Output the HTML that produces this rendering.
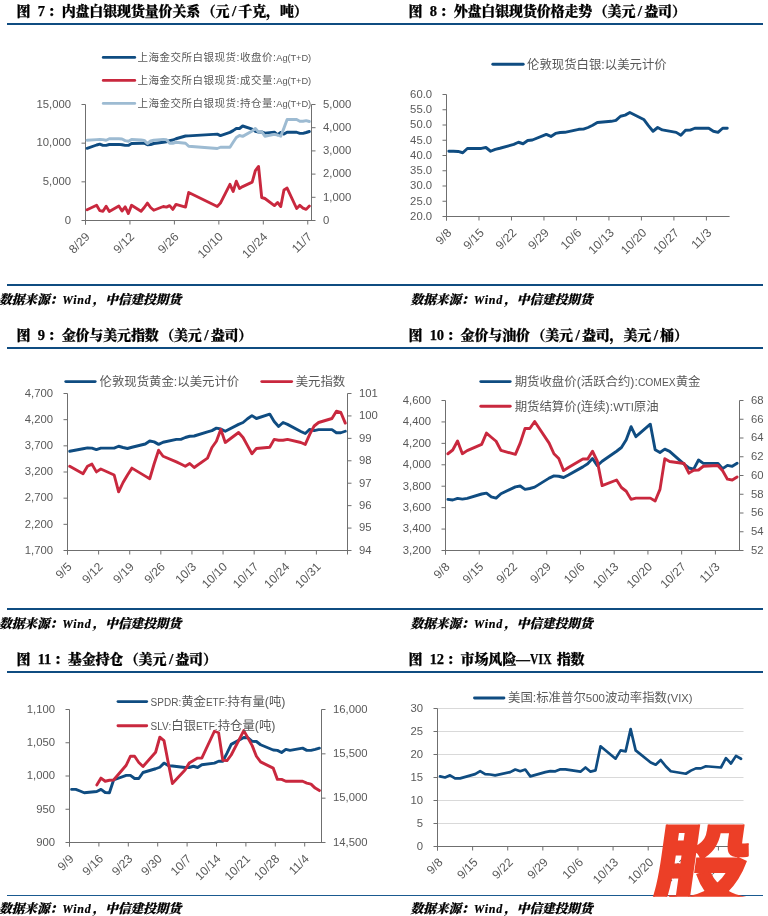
<!DOCTYPE html>
<html lang="zh"><head><meta charset="utf-8"><title>charts</title>
<style>
html,body{margin:0;padding:0;background:#fff}
#p{position:relative;width:768px;height:916px;overflow:hidden;background:#fff}
.t{position:absolute;white-space:nowrap;font-family:"Liberation Serif","Noto Serif CJK SC",serif;font-weight:900;font-size:14px;line-height:16px;color:#000;letter-spacing:-0.15px;-webkit-text-stroke:0.25px #000}
.t .n{margin:0 3px 0 7.5px;letter-spacing:-0.3px;font-size:14.5px}
.t .l{margin:0 2.2px 0 2.6px;font-size:15.5px}
.t .o{margin-left:1.5px}
.t .v{display:inline-block;margin:0 -4.5px 0 0.5px;font-size:14.5px;letter-spacing:0.3px;transform:scaleX(0.8);transform-origin:0 50%}
.s{position:absolute;white-space:nowrap;font-family:"Liberation Serif","Noto Serif CJK SC",serif;font-weight:900;font-style:italic;font-size:12.7px;line-height:14px;color:#000;letter-spacing:-0.05px;-webkit-text-stroke:0.2px #000}
.s .w{letter-spacing:0.8px;font-weight:bold;font-size:12px;margin:0 1px 0 0}
.r{position:absolute;left:7px;width:756px;height:2px;background:#0f4c81}
svg{position:absolute;left:0;top:0}
svg text{font-family:"Liberation Sans","Noto Sans CJK SC",sans-serif;fill:#595959}
svg .lg{font-family:"Liberation Sans","Noto Sans CJK SC",sans-serif}
svg .la{font-family:"Liberation Sans",sans-serif}
svg #wmt{font-family:"Liberation Sans","Noto Sans CJK SC",sans-serif;fill:#ec3f27;stroke:#ec3f27}
</style></head><body><div id="p">
<div class="t" style="left:16.5px;top:3.3px">图<span class="n">7</span>：内盘白银现货量价关系<span class="o">（</span>元<span class="l">/</span>千克，吨）</div><div class="t" style="left:408.5px;top:3.3px">图<span class="n">8</span>：外盘白银现货价格走势<span class="o">（</span>美元<span class="l">/</span>盎司）</div><div class="t" style="left:16.5px;top:327.3px">图<span class="n">9</span>：金价与美元指数<span class="o">（</span>美元<span class="l">/</span>盎司）</div><div class="t" style="left:408.5px;top:327.3px">图<span class="n">10</span>：金价与油价<span class="o">（</span>美元<span class="l">/</span>盎司，美元<span class="l">/</span>桶）</div><div class="t" style="left:16.5px;top:651.3px">图<span class="n">11</span>：基金持仓<span class="o">（</span>美元<span class="l">/</span>盎司）</div><div class="t" style="left:408.5px;top:651.3px">图<span class="n">12</span>：市场风险—<span class="v">VIX</span> 指数</div><div class="r" style="top:23px"></div><div class="r" style="top:284px"></div><div class="r" style="top:347px"></div><div class="r" style="top:608px"></div><div class="r" style="top:671px"></div><div class="r" style="top:894.7px;height:1.5px;background:#1a5a90"></div><div class="s" style="left:-1.0px;top:292.5px">数据来源：<span class="w">Wind</span>，中信建投期货</div><div class="s" style="left:410.5px;top:292.5px">数据来源：<span class="w">Wind</span>，中信建投期货</div><div class="s" style="left:-1.0px;top:616.5px">数据来源：<span class="w">Wind</span>，中信建投期货</div><div class="s" style="left:410.5px;top:616.5px">数据来源：<span class="w">Wind</span>，中信建投期货</div><div class="s" style="left:-1.0px;top:901.9px">数据来源：<span class="w">Wind</span>，中信建投期货</div><div class="s" style="left:410.5px;top:901.9px">数据来源：<span class="w">Wind</span>，中信建投期货</div><svg width="768" height="916" viewBox="0 0 768 916">
<g class="c">
<line x1="85.50" y1="104.50" x2="85.50" y2="224.50" stroke="#6f6f6f" stroke-width="1"/>
<line x1="81.50" y1="104.50" x2="85.50" y2="104.50" stroke="#6f6f6f" stroke-width="1"/>
<line x1="81.50" y1="143.17" x2="85.50" y2="143.17" stroke="#6f6f6f" stroke-width="1"/>
<line x1="81.50" y1="181.83" x2="85.50" y2="181.83" stroke="#6f6f6f" stroke-width="1"/>
<line x1="81.50" y1="220.50" x2="85.50" y2="220.50" stroke="#6f6f6f" stroke-width="1"/>
<line x1="85.50" y1="220.50" x2="311.50" y2="220.50" stroke="#6f6f6f" stroke-width="1"/>
<line x1="85.50" y1="220.50" x2="85.50" y2="224.50" stroke="#6f6f6f" stroke-width="1"/>
<line x1="129.95" y1="220.50" x2="129.95" y2="224.50" stroke="#6f6f6f" stroke-width="1"/>
<line x1="174.40" y1="220.50" x2="174.40" y2="224.50" stroke="#6f6f6f" stroke-width="1"/>
<line x1="218.85" y1="220.50" x2="218.85" y2="224.50" stroke="#6f6f6f" stroke-width="1"/>
<line x1="263.30" y1="220.50" x2="263.30" y2="224.50" stroke="#6f6f6f" stroke-width="1"/>
<line x1="307.75" y1="220.50" x2="307.75" y2="224.50" stroke="#6f6f6f" stroke-width="1"/>
<line x1="311.50" y1="104.50" x2="311.50" y2="221.00" stroke="#6f6f6f" stroke-width="1"/>
<line x1="311.50" y1="104.50" x2="315.50" y2="104.50" stroke="#6f6f6f" stroke-width="1"/>
<line x1="311.50" y1="127.70" x2="315.50" y2="127.70" stroke="#6f6f6f" stroke-width="1"/>
<line x1="311.50" y1="150.90" x2="315.50" y2="150.90" stroke="#6f6f6f" stroke-width="1"/>
<line x1="311.50" y1="174.10" x2="315.50" y2="174.10" stroke="#6f6f6f" stroke-width="1"/>
<line x1="311.50" y1="197.30" x2="315.50" y2="197.30" stroke="#6f6f6f" stroke-width="1"/>
<line x1="311.50" y1="220.50" x2="315.50" y2="220.50" stroke="#6f6f6f" stroke-width="1"/>
<text x="71.10" y="107.80" text-anchor="end" font-size="11.3" >15,000</text>
<text x="71.10" y="146.47" text-anchor="end" font-size="11.3" >10,000</text>
<text x="71.10" y="185.13" text-anchor="end" font-size="11.3" >5,000</text>
<text x="71.10" y="223.80" text-anchor="end" font-size="11.3" >0</text>
<text x="323.00" y="107.80" text-anchor="start" font-size="11.3" >5,000</text>
<text x="323.00" y="131.00" text-anchor="start" font-size="11.3" >4,000</text>
<text x="323.00" y="154.20" text-anchor="start" font-size="11.3" >3,000</text>
<text x="323.00" y="177.40" text-anchor="start" font-size="11.3" >2,000</text>
<text x="323.00" y="200.60" text-anchor="start" font-size="11.3" >1,000</text>
<text x="323.00" y="223.80" text-anchor="start" font-size="11.3" >0</text>
<text transform="translate(90.50 237.50) rotate(-45)" text-anchor="end" font-size="12.100000000000001">8/29</text>
<text transform="translate(134.95 237.50) rotate(-45)" text-anchor="end" font-size="12.100000000000001">9/12</text>
<text transform="translate(179.40 237.50) rotate(-45)" text-anchor="end" font-size="12.100000000000001">9/26</text>
<text transform="translate(223.85 237.50) rotate(-45)" text-anchor="end" font-size="12.100000000000001">10/10</text>
<text transform="translate(268.30 237.50) rotate(-45)" text-anchor="end" font-size="12.100000000000001">10/24</text>
<text transform="translate(312.75 237.50) rotate(-45)" text-anchor="end" font-size="12.100000000000001">11/7</text>
<polyline points="87.09,148.38 96.61,145.00 99.79,144.12 102.96,145.38 106.14,145.38 109.31,144.50 118.84,144.38 122.01,144.75 125.19,145.38 128.36,145.38 131.54,143.50 141.06,143.25 144.24,143.12 147.41,144.75 150.59,144.50 153.76,143.50 163.29,142.25 166.46,141.88 169.64,140.62 172.81,140.00 175.99,138.75 185.51,136.00 188.69,135.88 217.26,134.12 220.44,135.62 229.96,132.38 233.14,130.62 236.31,128.50 239.49,128.50 242.66,126.00 252.19,129.12 255.36,131.25 258.54,132.12 261.71,131.88 264.89,133.12 274.41,132.12 277.59,134.75 280.76,132.50 283.94,134.12 287.11,132.25 296.64,132.25 299.81,133.38 302.99,133.38 306.16,132.50 309.34,131.50" fill="none" stroke="#0f4c81" stroke-width="2.90" stroke-linejoin="round" stroke-linecap="round"/>
<polyline points="87.09,209.75 96.61,205.25 99.79,210.62 102.96,211.25 106.14,206.25 109.31,211.50 118.84,206.00 122.01,211.00 125.19,206.88 128.36,213.50 131.54,205.25 141.06,211.25 144.24,207.50 147.41,203.12 150.59,207.50 153.76,210.25 163.29,206.50 166.46,207.12 169.64,205.62 172.81,209.38 175.99,204.38 185.51,207.12 188.69,192.50 217.26,206.50 220.44,203.12 229.96,184.38 233.14,191.50 236.31,181.25 239.49,188.50 242.66,186.62 252.19,182.12 255.36,170.62 258.54,166.50 261.71,197.50 264.89,198.50 274.41,205.62 277.59,202.50 280.76,206.50 283.94,190.00 287.11,188.12 296.64,208.50 299.81,205.38 302.99,208.12 306.16,209.38 309.34,206.00" fill="none" stroke="#c9283e" stroke-width="2.90" stroke-linejoin="round" stroke-linecap="round"/>
<polyline points="87.09,140.25 96.61,139.62 99.79,139.50 102.96,139.62 106.14,140.25 109.31,138.75 118.84,138.75 122.01,139.00 125.19,140.62 128.36,141.25 131.54,139.38 141.06,140.00 144.24,140.38 147.41,143.50 150.59,141.00 153.76,140.25 163.29,139.38 166.46,139.75 169.64,143.25 172.81,143.25 175.99,142.25 185.51,143.25 188.69,146.25 217.26,148.50 220.44,147.25 229.96,147.25 233.14,142.25 236.31,137.50 239.49,135.50 242.66,136.38 252.19,131.00 255.36,128.50 258.54,132.12 261.71,131.62 264.89,136.25 274.41,134.38 277.59,135.00 280.76,136.25 283.94,128.12 287.11,119.50 296.64,119.50 299.81,121.25 302.99,121.25 306.16,120.62 309.34,121.50" fill="none" stroke="#9dbbd2" stroke-width="2.90" stroke-linejoin="round" stroke-linecap="round"/>
<line x1="103.30" y1="57.40" x2="134.70" y2="57.40" stroke="#0f4c81" stroke-width="2.90" stroke-linecap="round"/>
<text x="137.50" y="61.18" font-size="10.5" letter-spacing="0.5" class="lg">上海金交所白银现货:收盘价:<tspan letter-spacing="-0.1" font-size="9.3" class="la">Ag(T+D)</tspan></text>
<line x1="103.30" y1="80.40" x2="134.70" y2="80.40" stroke="#c9283e" stroke-width="2.90" stroke-linecap="round"/>
<text x="137.50" y="84.18" font-size="10.5" letter-spacing="0.5" class="lg">上海金交所白银现货:成交量:<tspan letter-spacing="-0.1" font-size="9.3" class="la">Ag(T+D)</tspan></text>
<line x1="103.30" y1="103.40" x2="134.70" y2="103.40" stroke="#9dbbd2" stroke-width="2.90" stroke-linecap="round"/>
<text x="137.50" y="107.18" font-size="10.5" letter-spacing="0.5" class="lg">上海金交所白银现货:持仓量:<tspan letter-spacing="-0.1" font-size="9.3" class="la">Ag(T+D)</tspan></text>
</g>
<g class="c">
<line x1="446.50" y1="94.50" x2="446.50" y2="220.50" stroke="#6f6f6f" stroke-width="1"/>
<line x1="442.50" y1="94.50" x2="446.50" y2="94.50" stroke="#6f6f6f" stroke-width="1"/>
<line x1="442.50" y1="109.75" x2="446.50" y2="109.75" stroke="#6f6f6f" stroke-width="1"/>
<line x1="442.50" y1="125.00" x2="446.50" y2="125.00" stroke="#6f6f6f" stroke-width="1"/>
<line x1="442.50" y1="140.25" x2="446.50" y2="140.25" stroke="#6f6f6f" stroke-width="1"/>
<line x1="442.50" y1="155.50" x2="446.50" y2="155.50" stroke="#6f6f6f" stroke-width="1"/>
<line x1="442.50" y1="170.75" x2="446.50" y2="170.75" stroke="#6f6f6f" stroke-width="1"/>
<line x1="442.50" y1="186.00" x2="446.50" y2="186.00" stroke="#6f6f6f" stroke-width="1"/>
<line x1="442.50" y1="201.25" x2="446.50" y2="201.25" stroke="#6f6f6f" stroke-width="1"/>
<line x1="442.50" y1="216.50" x2="446.50" y2="216.50" stroke="#6f6f6f" stroke-width="1"/>
<line x1="446.50" y1="216.50" x2="729.60" y2="216.50" stroke="#6f6f6f" stroke-width="1"/>
<line x1="446.50" y1="216.50" x2="446.50" y2="220.50" stroke="#6f6f6f" stroke-width="1"/>
<line x1="478.99" y1="216.50" x2="478.99" y2="220.50" stroke="#6f6f6f" stroke-width="1"/>
<line x1="511.47" y1="216.50" x2="511.47" y2="220.50" stroke="#6f6f6f" stroke-width="1"/>
<line x1="543.96" y1="216.50" x2="543.96" y2="220.50" stroke="#6f6f6f" stroke-width="1"/>
<line x1="576.45" y1="216.50" x2="576.45" y2="220.50" stroke="#6f6f6f" stroke-width="1"/>
<line x1="608.93" y1="216.50" x2="608.93" y2="220.50" stroke="#6f6f6f" stroke-width="1"/>
<line x1="641.42" y1="216.50" x2="641.42" y2="220.50" stroke="#6f6f6f" stroke-width="1"/>
<line x1="673.91" y1="216.50" x2="673.91" y2="220.50" stroke="#6f6f6f" stroke-width="1"/>
<line x1="706.40" y1="216.50" x2="706.40" y2="220.50" stroke="#6f6f6f" stroke-width="1"/>
<text x="432.10" y="97.80" text-anchor="end" font-size="11.3" >60.0</text>
<text x="432.10" y="113.05" text-anchor="end" font-size="11.3" >55.0</text>
<text x="432.10" y="128.30" text-anchor="end" font-size="11.3" >50.0</text>
<text x="432.10" y="143.55" text-anchor="end" font-size="11.3" >45.0</text>
<text x="432.10" y="158.80" text-anchor="end" font-size="11.3" >40.0</text>
<text x="432.10" y="174.05" text-anchor="end" font-size="11.3" >35.0</text>
<text x="432.10" y="189.30" text-anchor="end" font-size="11.3" >30.0</text>
<text x="432.10" y="204.55" text-anchor="end" font-size="11.3" >25.0</text>
<text x="432.10" y="219.80" text-anchor="end" font-size="11.3" >20.0</text>
<text transform="translate(452.30 233.50) rotate(-45)" text-anchor="end" font-size="12.100000000000001">9/8</text>
<text transform="translate(484.79 233.50) rotate(-45)" text-anchor="end" font-size="12.100000000000001">9/15</text>
<text transform="translate(517.27 233.50) rotate(-45)" text-anchor="end" font-size="12.100000000000001">9/22</text>
<text transform="translate(549.76 233.50) rotate(-45)" text-anchor="end" font-size="12.100000000000001">9/29</text>
<text transform="translate(582.25 233.50) rotate(-45)" text-anchor="end" font-size="12.100000000000001">10/6</text>
<text transform="translate(614.73 233.50) rotate(-45)" text-anchor="end" font-size="12.100000000000001">10/13</text>
<text transform="translate(647.22 233.50) rotate(-45)" text-anchor="end" font-size="12.100000000000001">10/20</text>
<text transform="translate(679.71 233.50) rotate(-45)" text-anchor="end" font-size="12.100000000000001">10/27</text>
<text transform="translate(712.20 233.50) rotate(-45)" text-anchor="end" font-size="12.100000000000001">11/3</text>
<polyline points="448.82,151.25 453.46,151.25 458.10,151.44 462.74,152.75 467.38,148.44 481.31,148.44 485.95,147.50 490.59,151.25 495.23,149.38 499.87,148.25 513.79,144.31 518.44,142.25 523.08,143.75 527.72,140.56 532.36,140.00 546.28,134.38 550.92,136.44 555.56,133.44 560.20,132.50 564.85,132.31 578.77,129.31 583.41,129.13 588.05,127.50 592.69,125.25 597.33,122.44 611.25,121.31 615.90,120.38 620.54,116.25 625.18,115.13 629.82,112.50 643.74,119.44 648.38,125.63 653.02,131.25 657.66,127.50 662.31,129.94 676.23,132.38 680.87,135.19 685.51,130.31 690.15,130.13 694.79,128.25 708.72,128.25 713.36,131.25 718.00,132.38 722.64,128.25 727.28,128.25" fill="none" stroke="#0f4c81" stroke-width="2.90" stroke-linejoin="round" stroke-linecap="round"/>
<line x1="492.80" y1="64.30" x2="523.20" y2="64.30" stroke="#0f4c81" stroke-width="2.90" stroke-linecap="round"/>
<text x="527.00" y="68.76" font-size="12.4" letter-spacing="0" class="lg">伦敦现货白银:以美元计价</text>
</g>
<g class="c">
<line x1="67.50" y1="393.50" x2="67.50" y2="554.50" stroke="#6f6f6f" stroke-width="1"/>
<line x1="63.50" y1="393.50" x2="67.50" y2="393.50" stroke="#6f6f6f" stroke-width="1"/>
<line x1="63.50" y1="419.67" x2="67.50" y2="419.67" stroke="#6f6f6f" stroke-width="1"/>
<line x1="63.50" y1="445.83" x2="67.50" y2="445.83" stroke="#6f6f6f" stroke-width="1"/>
<line x1="63.50" y1="472.00" x2="67.50" y2="472.00" stroke="#6f6f6f" stroke-width="1"/>
<line x1="63.50" y1="498.17" x2="67.50" y2="498.17" stroke="#6f6f6f" stroke-width="1"/>
<line x1="63.50" y1="524.33" x2="67.50" y2="524.33" stroke="#6f6f6f" stroke-width="1"/>
<line x1="63.50" y1="550.50" x2="67.50" y2="550.50" stroke="#6f6f6f" stroke-width="1"/>
<line x1="67.50" y1="550.50" x2="347.50" y2="550.50" stroke="#6f6f6f" stroke-width="1"/>
<line x1="67.50" y1="550.50" x2="67.50" y2="554.50" stroke="#6f6f6f" stroke-width="1"/>
<line x1="98.61" y1="550.50" x2="98.61" y2="554.50" stroke="#6f6f6f" stroke-width="1"/>
<line x1="129.72" y1="550.50" x2="129.72" y2="554.50" stroke="#6f6f6f" stroke-width="1"/>
<line x1="160.83" y1="550.50" x2="160.83" y2="554.50" stroke="#6f6f6f" stroke-width="1"/>
<line x1="191.94" y1="550.50" x2="191.94" y2="554.50" stroke="#6f6f6f" stroke-width="1"/>
<line x1="223.06" y1="550.50" x2="223.06" y2="554.50" stroke="#6f6f6f" stroke-width="1"/>
<line x1="254.17" y1="550.50" x2="254.17" y2="554.50" stroke="#6f6f6f" stroke-width="1"/>
<line x1="285.28" y1="550.50" x2="285.28" y2="554.50" stroke="#6f6f6f" stroke-width="1"/>
<line x1="316.39" y1="550.50" x2="316.39" y2="554.50" stroke="#6f6f6f" stroke-width="1"/>
<line x1="347.50" y1="393.50" x2="347.50" y2="551.00" stroke="#6f6f6f" stroke-width="1"/>
<line x1="347.50" y1="393.50" x2="351.50" y2="393.50" stroke="#6f6f6f" stroke-width="1"/>
<line x1="347.50" y1="415.93" x2="351.50" y2="415.93" stroke="#6f6f6f" stroke-width="1"/>
<line x1="347.50" y1="438.36" x2="351.50" y2="438.36" stroke="#6f6f6f" stroke-width="1"/>
<line x1="347.50" y1="460.79" x2="351.50" y2="460.79" stroke="#6f6f6f" stroke-width="1"/>
<line x1="347.50" y1="483.21" x2="351.50" y2="483.21" stroke="#6f6f6f" stroke-width="1"/>
<line x1="347.50" y1="505.64" x2="351.50" y2="505.64" stroke="#6f6f6f" stroke-width="1"/>
<line x1="347.50" y1="528.07" x2="351.50" y2="528.07" stroke="#6f6f6f" stroke-width="1"/>
<line x1="347.50" y1="550.50" x2="351.50" y2="550.50" stroke="#6f6f6f" stroke-width="1"/>
<text x="53.10" y="396.80" text-anchor="end" font-size="11.3" >4,700</text>
<text x="53.10" y="422.97" text-anchor="end" font-size="11.3" >4,200</text>
<text x="53.10" y="449.13" text-anchor="end" font-size="11.3" >3,700</text>
<text x="53.10" y="475.30" text-anchor="end" font-size="11.3" >3,200</text>
<text x="53.10" y="501.47" text-anchor="end" font-size="11.3" >2,700</text>
<text x="53.10" y="527.63" text-anchor="end" font-size="11.3" >2,200</text>
<text x="53.10" y="553.80" text-anchor="end" font-size="11.3" >1,700</text>
<text x="359.00" y="396.80" text-anchor="start" font-size="11.3" >101</text>
<text x="359.00" y="419.23" text-anchor="start" font-size="11.3" >100</text>
<text x="359.00" y="441.66" text-anchor="start" font-size="11.3" >99</text>
<text x="359.00" y="464.09" text-anchor="start" font-size="11.3" >98</text>
<text x="359.00" y="486.51" text-anchor="start" font-size="11.3" >97</text>
<text x="359.00" y="508.94" text-anchor="start" font-size="11.3" >96</text>
<text x="359.00" y="531.37" text-anchor="start" font-size="11.3" >95</text>
<text x="359.00" y="553.80" text-anchor="start" font-size="11.3" >94</text>
<text transform="translate(72.50 567.50) rotate(-45)" text-anchor="end" font-size="12.100000000000001">9/5</text>
<text transform="translate(103.61 567.50) rotate(-45)" text-anchor="end" font-size="12.100000000000001">9/12</text>
<text transform="translate(134.72 567.50) rotate(-45)" text-anchor="end" font-size="12.100000000000001">9/19</text>
<text transform="translate(165.83 567.50) rotate(-45)" text-anchor="end" font-size="12.100000000000001">9/26</text>
<text transform="translate(196.94 567.50) rotate(-45)" text-anchor="end" font-size="12.100000000000001">10/3</text>
<text transform="translate(228.06 567.50) rotate(-45)" text-anchor="end" font-size="12.100000000000001">10/10</text>
<text transform="translate(259.17 567.50) rotate(-45)" text-anchor="end" font-size="12.100000000000001">10/17</text>
<text transform="translate(290.28 567.50) rotate(-45)" text-anchor="end" font-size="12.100000000000001">10/24</text>
<text transform="translate(321.39 567.50) rotate(-45)" text-anchor="end" font-size="12.100000000000001">10/31</text>
<line x1="347.50" y1="550.50" x2="347.50" y2="554.50" stroke="#6f6f6f" stroke-width="1"/>
<polyline points="69.72,451.25 83.06,448.75 87.50,447.88 91.94,448.12 96.39,449.62 100.83,448.12 114.17,448.12 118.61,446.25 123.06,447.50 127.50,448.50 131.94,447.25 145.28,444.00 149.72,441.00 154.17,441.88 158.61,444.38 163.06,442.25 176.39,439.38 180.83,439.38 185.28,437.50 189.72,436.25 194.17,436.00 207.50,431.88 211.94,430.62 216.39,428.12 220.83,429.00 225.28,431.25 238.61,424.38 243.06,422.50 247.50,418.75 251.94,415.62 256.39,418.50 269.72,414.12 274.17,421.50 278.61,426.50 283.06,422.50 287.50,424.38 300.83,431.50 305.28,433.50 309.72,429.38 314.17,430.62 318.61,429.62 331.94,429.62 336.39,432.75 340.83,432.75 345.28,431.25" fill="none" stroke="#0f4c81" stroke-width="2.90" stroke-linejoin="round" stroke-linecap="round"/>
<polyline points="69.72,466.25 83.06,473.75 87.50,466.25 91.94,464.12 96.39,471.88 100.83,469.00 114.17,475.00 118.61,491.88 123.06,482.50 127.50,475.00 131.94,468.12 145.28,476.12 149.72,478.75 154.17,463.75 158.61,450.25 163.06,456.25 176.39,461.88 180.83,464.00 185.28,466.25 189.72,463.50 194.17,467.50 207.50,458.12 211.94,447.50 216.39,441.25 220.83,429.38 225.28,442.50 238.61,432.50 243.06,437.50 247.50,445.62 251.94,453.75 256.39,448.50 269.72,447.25 274.17,439.38 278.61,440.25 283.06,440.25 287.50,439.38 300.83,442.50 305.28,444.38 309.72,434.38 314.17,426.00 318.61,422.50 331.94,418.50 336.39,411.25 340.83,412.50 345.28,423.12" fill="none" stroke="#c9283e" stroke-width="2.90" stroke-linejoin="round" stroke-linecap="round"/>
<line x1="65.80" y1="381.60" x2="95.20" y2="381.60" stroke="#0f4c81" stroke-width="2.90" stroke-linecap="round"/>
<text x="99.50" y="386.06" font-size="12.4" letter-spacing="0" class="lg">伦敦现货黄金:以美元计价</text>
<line x1="261.80" y1="381.60" x2="291.70" y2="381.60" stroke="#c9283e" stroke-width="2.90" stroke-linecap="round"/>
<text x="295.70" y="386.06" font-size="12.4" letter-spacing="0" class="lg">美元指数</text>
</g>
<g class="c">
<line x1="445.50" y1="400.50" x2="445.50" y2="554.50" stroke="#6f6f6f" stroke-width="1"/>
<line x1="441.50" y1="400.50" x2="445.50" y2="400.50" stroke="#6f6f6f" stroke-width="1"/>
<line x1="441.50" y1="421.93" x2="445.50" y2="421.93" stroke="#6f6f6f" stroke-width="1"/>
<line x1="441.50" y1="443.36" x2="445.50" y2="443.36" stroke="#6f6f6f" stroke-width="1"/>
<line x1="441.50" y1="464.79" x2="445.50" y2="464.79" stroke="#6f6f6f" stroke-width="1"/>
<line x1="441.50" y1="486.21" x2="445.50" y2="486.21" stroke="#6f6f6f" stroke-width="1"/>
<line x1="441.50" y1="507.64" x2="445.50" y2="507.64" stroke="#6f6f6f" stroke-width="1"/>
<line x1="441.50" y1="529.07" x2="445.50" y2="529.07" stroke="#6f6f6f" stroke-width="1"/>
<line x1="441.50" y1="550.50" x2="445.50" y2="550.50" stroke="#6f6f6f" stroke-width="1"/>
<line x1="445.50" y1="550.50" x2="739.50" y2="550.50" stroke="#6f6f6f" stroke-width="1"/>
<line x1="445.50" y1="550.50" x2="445.50" y2="554.50" stroke="#6f6f6f" stroke-width="1"/>
<line x1="479.24" y1="550.50" x2="479.24" y2="554.50" stroke="#6f6f6f" stroke-width="1"/>
<line x1="512.98" y1="550.50" x2="512.98" y2="554.50" stroke="#6f6f6f" stroke-width="1"/>
<line x1="546.71" y1="550.50" x2="546.71" y2="554.50" stroke="#6f6f6f" stroke-width="1"/>
<line x1="580.45" y1="550.50" x2="580.45" y2="554.50" stroke="#6f6f6f" stroke-width="1"/>
<line x1="614.19" y1="550.50" x2="614.19" y2="554.50" stroke="#6f6f6f" stroke-width="1"/>
<line x1="647.93" y1="550.50" x2="647.93" y2="554.50" stroke="#6f6f6f" stroke-width="1"/>
<line x1="681.66" y1="550.50" x2="681.66" y2="554.50" stroke="#6f6f6f" stroke-width="1"/>
<line x1="715.40" y1="550.50" x2="715.40" y2="554.50" stroke="#6f6f6f" stroke-width="1"/>
<line x1="739.50" y1="400.50" x2="739.50" y2="551.00" stroke="#6f6f6f" stroke-width="1"/>
<line x1="739.50" y1="400.50" x2="743.50" y2="400.50" stroke="#6f6f6f" stroke-width="1"/>
<line x1="739.50" y1="419.25" x2="743.50" y2="419.25" stroke="#6f6f6f" stroke-width="1"/>
<line x1="739.50" y1="438.00" x2="743.50" y2="438.00" stroke="#6f6f6f" stroke-width="1"/>
<line x1="739.50" y1="456.75" x2="743.50" y2="456.75" stroke="#6f6f6f" stroke-width="1"/>
<line x1="739.50" y1="475.50" x2="743.50" y2="475.50" stroke="#6f6f6f" stroke-width="1"/>
<line x1="739.50" y1="494.25" x2="743.50" y2="494.25" stroke="#6f6f6f" stroke-width="1"/>
<line x1="739.50" y1="513.00" x2="743.50" y2="513.00" stroke="#6f6f6f" stroke-width="1"/>
<line x1="739.50" y1="531.75" x2="743.50" y2="531.75" stroke="#6f6f6f" stroke-width="1"/>
<line x1="739.50" y1="550.50" x2="743.50" y2="550.50" stroke="#6f6f6f" stroke-width="1"/>
<text x="431.10" y="403.80" text-anchor="end" font-size="11.3" >4,600</text>
<text x="431.10" y="425.23" text-anchor="end" font-size="11.3" >4,400</text>
<text x="431.10" y="446.66" text-anchor="end" font-size="11.3" >4,200</text>
<text x="431.10" y="468.09" text-anchor="end" font-size="11.3" >4,000</text>
<text x="431.10" y="489.51" text-anchor="end" font-size="11.3" >3,800</text>
<text x="431.10" y="510.94" text-anchor="end" font-size="11.3" >3,600</text>
<text x="431.10" y="532.37" text-anchor="end" font-size="11.3" >3,400</text>
<text x="431.10" y="553.80" text-anchor="end" font-size="11.3" >3,200</text>
<text x="751.00" y="403.80" text-anchor="start" font-size="11.3" >68</text>
<text x="751.00" y="422.55" text-anchor="start" font-size="11.3" >66</text>
<text x="751.00" y="441.30" text-anchor="start" font-size="11.3" >64</text>
<text x="751.00" y="460.05" text-anchor="start" font-size="11.3" >62</text>
<text x="751.00" y="478.80" text-anchor="start" font-size="11.3" >60</text>
<text x="751.00" y="497.55" text-anchor="start" font-size="11.3" >58</text>
<text x="751.00" y="516.30" text-anchor="start" font-size="11.3" >56</text>
<text x="751.00" y="535.05" text-anchor="start" font-size="11.3" >54</text>
<text x="751.00" y="553.80" text-anchor="start" font-size="11.3" >52</text>
<text transform="translate(450.50 567.50) rotate(-45)" text-anchor="end" font-size="12.100000000000001">9/8</text>
<text transform="translate(484.24 567.50) rotate(-45)" text-anchor="end" font-size="12.100000000000001">9/15</text>
<text transform="translate(517.98 567.50) rotate(-45)" text-anchor="end" font-size="12.100000000000001">9/22</text>
<text transform="translate(551.71 567.50) rotate(-45)" text-anchor="end" font-size="12.100000000000001">9/29</text>
<text transform="translate(585.45 567.50) rotate(-45)" text-anchor="end" font-size="12.100000000000001">10/6</text>
<text transform="translate(619.19 567.50) rotate(-45)" text-anchor="end" font-size="12.100000000000001">10/13</text>
<text transform="translate(652.93 567.50) rotate(-45)" text-anchor="end" font-size="12.100000000000001">10/20</text>
<text transform="translate(686.66 567.50) rotate(-45)" text-anchor="end" font-size="12.100000000000001">10/27</text>
<text transform="translate(720.40 567.50) rotate(-45)" text-anchor="end" font-size="12.100000000000001">11/3</text>
<polyline points="447.91,499.38 452.73,500.00 457.55,498.38 462.37,499.12 467.19,498.38 481.65,494.00 486.47,493.12 491.29,496.88 496.11,498.12 500.93,493.75 515.39,486.88 520.20,486.00 525.02,489.38 529.84,488.50 534.66,487.12 549.12,478.12 553.94,475.88 558.76,476.25 563.58,477.50 568.40,475.00 582.86,466.88 587.68,463.75 592.50,458.50 597.32,465.62 602.14,461.25 616.60,451.25 621.42,447.50 626.24,439.67 631.06,426.67 635.88,436.67 650.34,424.17 655.16,449.67 659.98,452.50 664.80,449.17 669.61,451.33 684.07,464.17 688.89,468.00 693.71,469.17 698.53,460.00 703.35,463.33 717.81,463.33 722.63,468.67 727.45,465.33 732.27,466.33 737.09,463.33" fill="none" stroke="#0f4c81" stroke-width="2.90" stroke-linejoin="round" stroke-linecap="round"/>
<polyline points="447.91,453.75 452.73,450.00 457.55,441.00 462.37,453.75 467.19,450.62 481.65,444.38 486.47,433.12 491.29,437.25 496.11,441.25 500.93,450.38 515.39,454.38 520.20,443.12 525.02,428.50 529.84,428.50 534.66,421.50 549.12,443.12 553.94,453.75 558.76,458.50 563.58,470.62 568.40,467.50 582.86,459.00 587.68,459.00 592.50,451.25 597.32,461.25 602.14,485.62 616.60,480.00 621.42,487.50 626.24,491.25 631.06,499.38 635.88,498.12 650.34,498.12 655.16,501.00 659.98,489.38 664.80,458.75 669.61,461.50 684.07,463.50 688.89,473.12 693.71,470.25 698.53,470.00 703.35,466.25 717.81,465.50 722.63,470.83 727.45,479.17 732.27,480.00 737.09,477.00" fill="none" stroke="#c9283e" stroke-width="2.90" stroke-linejoin="round" stroke-linecap="round"/>
<line x1="480.80" y1="381.60" x2="510.20" y2="381.60" stroke="#0f4c81" stroke-width="2.90" stroke-linecap="round"/>
<text x="514.70" y="386.06" font-size="12.4" letter-spacing="0" class="lg">期货收盘价(活跃合约):<tspan class="la" font-size="10.3">COMEX</tspan>黄金</text>
<line x1="480.80" y1="406.20" x2="510.20" y2="406.20" stroke="#c9283e" stroke-width="2.90" stroke-linecap="round"/>
<text x="514.70" y="410.66" font-size="12.4" letter-spacing="0" class="lg">期货结算价(连续):<tspan class="la" font-size="11.3">WTI</tspan>原油</text>
</g>
<g class="c">
<line x1="69.50" y1="709.50" x2="69.50" y2="846.50" stroke="#6f6f6f" stroke-width="1"/>
<line x1="65.50" y1="709.50" x2="69.50" y2="709.50" stroke="#6f6f6f" stroke-width="1"/>
<line x1="65.50" y1="742.75" x2="69.50" y2="742.75" stroke="#6f6f6f" stroke-width="1"/>
<line x1="65.50" y1="776.00" x2="69.50" y2="776.00" stroke="#6f6f6f" stroke-width="1"/>
<line x1="65.50" y1="809.25" x2="69.50" y2="809.25" stroke="#6f6f6f" stroke-width="1"/>
<line x1="65.50" y1="842.50" x2="69.50" y2="842.50" stroke="#6f6f6f" stroke-width="1"/>
<line x1="69.50" y1="842.50" x2="321.50" y2="842.50" stroke="#6f6f6f" stroke-width="1"/>
<line x1="69.50" y1="842.50" x2="69.50" y2="846.50" stroke="#6f6f6f" stroke-width="1"/>
<line x1="98.90" y1="842.50" x2="98.90" y2="846.50" stroke="#6f6f6f" stroke-width="1"/>
<line x1="128.30" y1="842.50" x2="128.30" y2="846.50" stroke="#6f6f6f" stroke-width="1"/>
<line x1="157.70" y1="842.50" x2="157.70" y2="846.50" stroke="#6f6f6f" stroke-width="1"/>
<line x1="187.10" y1="842.50" x2="187.10" y2="846.50" stroke="#6f6f6f" stroke-width="1"/>
<line x1="216.50" y1="842.50" x2="216.50" y2="846.50" stroke="#6f6f6f" stroke-width="1"/>
<line x1="245.90" y1="842.50" x2="245.90" y2="846.50" stroke="#6f6f6f" stroke-width="1"/>
<line x1="275.30" y1="842.50" x2="275.30" y2="846.50" stroke="#6f6f6f" stroke-width="1"/>
<line x1="304.70" y1="842.50" x2="304.70" y2="846.50" stroke="#6f6f6f" stroke-width="1"/>
<line x1="321.50" y1="709.50" x2="321.50" y2="843.00" stroke="#6f6f6f" stroke-width="1"/>
<line x1="321.50" y1="709.50" x2="325.50" y2="709.50" stroke="#6f6f6f" stroke-width="1"/>
<line x1="321.50" y1="753.83" x2="325.50" y2="753.83" stroke="#6f6f6f" stroke-width="1"/>
<line x1="321.50" y1="798.17" x2="325.50" y2="798.17" stroke="#6f6f6f" stroke-width="1"/>
<line x1="321.50" y1="842.50" x2="325.50" y2="842.50" stroke="#6f6f6f" stroke-width="1"/>
<text x="55.10" y="712.80" text-anchor="end" font-size="11.3" >1,100</text>
<text x="55.10" y="746.05" text-anchor="end" font-size="11.3" >1,050</text>
<text x="55.10" y="779.30" text-anchor="end" font-size="11.3" >1,000</text>
<text x="55.10" y="812.55" text-anchor="end" font-size="11.3" >950</text>
<text x="55.10" y="845.80" text-anchor="end" font-size="11.3" >900</text>
<text x="333.00" y="712.80" text-anchor="start" font-size="11.3" >16,000</text>
<text x="333.00" y="757.13" text-anchor="start" font-size="11.3" >15,500</text>
<text x="333.00" y="801.47" text-anchor="start" font-size="11.3" >15,000</text>
<text x="333.00" y="845.80" text-anchor="start" font-size="11.3" >14,500</text>
<text transform="translate(74.50 859.50) rotate(-45)" text-anchor="end" font-size="12.100000000000001">9/9</text>
<text transform="translate(103.90 859.50) rotate(-45)" text-anchor="end" font-size="12.100000000000001">9/16</text>
<text transform="translate(133.30 859.50) rotate(-45)" text-anchor="end" font-size="12.100000000000001">9/23</text>
<text transform="translate(162.70 859.50) rotate(-45)" text-anchor="end" font-size="12.100000000000001">9/30</text>
<text transform="translate(192.10 859.50) rotate(-45)" text-anchor="end" font-size="12.100000000000001">10/7</text>
<text transform="translate(221.50 859.50) rotate(-45)" text-anchor="end" font-size="12.100000000000001">10/14</text>
<text transform="translate(250.90 859.50) rotate(-45)" text-anchor="end" font-size="12.100000000000001">10/21</text>
<text transform="translate(280.30 859.50) rotate(-45)" text-anchor="end" font-size="12.100000000000001">10/28</text>
<text transform="translate(309.70 859.50) rotate(-45)" text-anchor="end" font-size="12.100000000000001">11/4</text>
<polyline points="71.60,789.38 75.80,789.38 80.00,791.00 84.20,792.75 96.80,791.50 101.00,789.38 105.20,792.50 109.40,792.75 113.60,780.00 126.20,775.38 130.40,775.38 134.60,778.50 138.80,778.50 143.00,772.50 155.60,768.75 159.80,767.25 164.00,763.12 168.20,765.62 172.40,766.00 185.00,767.50 189.20,767.50 193.40,766.25 197.60,767.50 201.80,764.75 214.40,763.12 218.60,761.25 222.80,761.25 227.00,753.12 231.20,744.38 243.80,737.50 248.00,737.75 252.20,741.25 256.40,741.50 260.60,744.75 273.20,750.00 277.40,750.38 281.60,752.50 285.80,749.38 290.00,750.38 302.60,748.12 306.80,750.38 311.00,750.38 315.20,749.38 319.40,748.12" fill="none" stroke="#0f4c81" stroke-width="2.90" stroke-linejoin="round" stroke-linecap="round"/>
<polyline points="96.80,785.00 101.00,778.12 105.20,781.25 109.40,780.25 113.60,780.00 126.20,765.25 130.40,756.25 134.60,756.25 138.80,762.50 143.00,766.50 155.60,752.25 159.80,737.25 164.00,740.62 168.20,762.50 172.40,783.50 185.00,770.00 189.20,763.12 193.40,760.62 197.60,758.12 201.80,758.12 214.40,731.25 218.60,732.75 222.80,760.25 227.00,760.62 231.20,755.00 243.80,730.62 248.00,738.12 252.20,745.62 256.40,756.25 260.60,761.88 273.20,768.12 277.40,779.38 281.60,779.38 285.80,781.25 290.00,781.25 302.60,781.25 306.80,783.12 311.00,784.12 315.20,788.12 319.40,790.62" fill="none" stroke="#c9283e" stroke-width="2.90" stroke-linejoin="round" stroke-linecap="round"/>
<line x1="118.00" y1="701.60" x2="146.70" y2="701.60" stroke="#0f4c81" stroke-width="2.90" stroke-linecap="round"/>
<text x="150.60" y="706.06" font-size="12.4" letter-spacing="0" class="lg"><tspan class="la" font-size="10">SPDR:</tspan>黄金<tspan class="la" font-size="10">ETF:</tspan>持有量(吨)</text>
<line x1="118.00" y1="725.70" x2="146.70" y2="725.70" stroke="#c9283e" stroke-width="2.90" stroke-linecap="round"/>
<text x="150.60" y="730.16" font-size="12.4" letter-spacing="0" class="lg"><tspan class="la" font-size="10">SLV:</tspan>白银<tspan class="la" font-size="10">ETF:</tspan>持仓量(吨)</text>
</g>
<g class="c">
<line x1="437.50" y1="708.50" x2="743.50" y2="708.50" stroke="#d9d9d9" stroke-width="1"/>
<line x1="437.50" y1="731.50" x2="743.50" y2="731.50" stroke="#d9d9d9" stroke-width="1"/>
<line x1="437.50" y1="754.50" x2="743.50" y2="754.50" stroke="#d9d9d9" stroke-width="1"/>
<line x1="437.50" y1="777.50" x2="743.50" y2="777.50" stroke="#d9d9d9" stroke-width="1"/>
<line x1="437.50" y1="800.50" x2="743.50" y2="800.50" stroke="#d9d9d9" stroke-width="1"/>
<line x1="437.50" y1="823.50" x2="743.50" y2="823.50" stroke="#d9d9d9" stroke-width="1"/>
<line x1="437.50" y1="708.50" x2="437.50" y2="850.50" stroke="#6f6f6f" stroke-width="1"/>
<line x1="433.50" y1="708.50" x2="437.50" y2="708.50" stroke="#6f6f6f" stroke-width="1"/>
<line x1="433.50" y1="731.50" x2="437.50" y2="731.50" stroke="#6f6f6f" stroke-width="1"/>
<line x1="433.50" y1="754.50" x2="437.50" y2="754.50" stroke="#6f6f6f" stroke-width="1"/>
<line x1="433.50" y1="777.50" x2="437.50" y2="777.50" stroke="#6f6f6f" stroke-width="1"/>
<line x1="433.50" y1="800.50" x2="437.50" y2="800.50" stroke="#6f6f6f" stroke-width="1"/>
<line x1="433.50" y1="823.50" x2="437.50" y2="823.50" stroke="#6f6f6f" stroke-width="1"/>
<line x1="433.50" y1="846.50" x2="437.50" y2="846.50" stroke="#6f6f6f" stroke-width="1"/>
<line x1="437.50" y1="846.50" x2="743.50" y2="846.50" stroke="#6f6f6f" stroke-width="1"/>
<line x1="437.50" y1="846.50" x2="437.50" y2="850.50" stroke="#6f6f6f" stroke-width="1"/>
<line x1="472.61" y1="846.50" x2="472.61" y2="850.50" stroke="#6f6f6f" stroke-width="1"/>
<line x1="507.73" y1="846.50" x2="507.73" y2="850.50" stroke="#6f6f6f" stroke-width="1"/>
<line x1="542.84" y1="846.50" x2="542.84" y2="850.50" stroke="#6f6f6f" stroke-width="1"/>
<line x1="577.96" y1="846.50" x2="577.96" y2="850.50" stroke="#6f6f6f" stroke-width="1"/>
<line x1="613.07" y1="846.50" x2="613.07" y2="850.50" stroke="#6f6f6f" stroke-width="1"/>
<line x1="648.19" y1="846.50" x2="648.19" y2="850.50" stroke="#6f6f6f" stroke-width="1"/>
<line x1="683.30" y1="846.50" x2="683.30" y2="850.50" stroke="#6f6f6f" stroke-width="1"/>
<line x1="718.42" y1="846.50" x2="718.42" y2="850.50" stroke="#6f6f6f" stroke-width="1"/>
<text x="423.10" y="711.80" text-anchor="end" font-size="11.3" >30</text>
<text x="423.10" y="734.80" text-anchor="end" font-size="11.3" >25</text>
<text x="423.10" y="757.80" text-anchor="end" font-size="11.3" >20</text>
<text x="423.10" y="780.80" text-anchor="end" font-size="11.3" >15</text>
<text x="423.10" y="803.80" text-anchor="end" font-size="11.3" >10</text>
<text x="423.10" y="826.80" text-anchor="end" font-size="11.3" >5</text>
<text x="423.10" y="849.80" text-anchor="end" font-size="11.3" >0</text>
<text transform="translate(443.50 863.00) rotate(-45)" text-anchor="end" font-size="12.100000000000001">9/8</text>
<text transform="translate(478.61 863.00) rotate(-45)" text-anchor="end" font-size="12.100000000000001">9/15</text>
<text transform="translate(513.73 863.00) rotate(-45)" text-anchor="end" font-size="12.100000000000001">9/22</text>
<text transform="translate(548.84 863.00) rotate(-45)" text-anchor="end" font-size="12.100000000000001">9/29</text>
<text transform="translate(583.96 863.00) rotate(-45)" text-anchor="end" font-size="12.100000000000001">10/6</text>
<text transform="translate(619.07 863.00) rotate(-45)" text-anchor="end" font-size="12.100000000000001">10/13</text>
<text transform="translate(654.19 863.00) rotate(-45)" text-anchor="end" font-size="12.100000000000001">10/20</text>
<text transform="translate(689.30 863.00) rotate(-45)" text-anchor="end" font-size="12.100000000000001">10/27</text>
<text transform="translate(724.42 863.00) rotate(-45)" text-anchor="end" font-size="12.100000000000001">11/3</text>
<polyline points="440.01,776.33 445.02,777.50 450.04,775.33 455.06,778.33 460.07,778.33 475.12,774.17 480.14,771.17 485.16,774.17 490.17,774.50 495.19,775.33 510.24,772.17 515.25,769.50 520.27,771.17 525.29,769.50 530.30,776.33 545.35,772.17 550.37,771.17 555.39,771.33 560.40,769.33 565.42,769.33 580.47,771.67 585.48,767.50 590.50,771.67 595.52,770.33 600.53,746.33 615.58,758.67 620.60,750.33 625.61,751.33 630.63,729.17 635.65,750.33 650.70,762.50 655.71,764.75 660.73,760.00 665.75,766.25 670.76,771.25 685.81,773.75 690.83,770.62 695.84,768.38 700.86,768.38 705.88,766.25 720.93,767.50 725.94,758.12 730.96,763.50 735.98,755.88 740.99,758.75" fill="none" stroke="#0f4c81" stroke-width="2.70" stroke-linejoin="round" stroke-linecap="round"/>
<line x1="474.50" y1="698.00" x2="503.90" y2="698.00" stroke="#0f4c81" stroke-width="2.90" stroke-linecap="round"/>
<text x="508.00" y="702.46" font-size="12.4" letter-spacing="0" class="lg">美国:标准普尔<tspan class="la" font-size="11.5">500</tspan>波动率指数<tspan class="la" font-size="11.2">(VIX)</tspan></text>
</g>
<clipPath id="wmc"><rect x="640" y="824.6" width="108.6" height="72.2"/></clipPath>
<g clip-path="url(#wmc)"><text id="wmt" transform="translate(649.3 901) skewX(-8) scale(0.97 1)" font-size="100" font-weight="900" stroke-width="1.8" stroke-linejoin="miter">股</text></g>
</svg>
</div></body></html>
